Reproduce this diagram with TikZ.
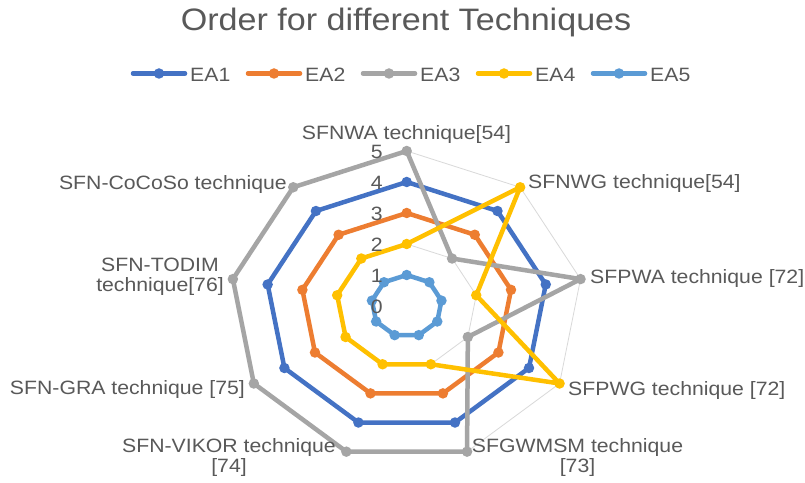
\documentclass[tikz,border=0pt]{standalone}
\usepackage{fontspec}
\setmainfont{Liberation Sans}[FakeStretch=1.1]
\definecolor{ea1}{HTML}{4472C4}
\definecolor{ea2}{HTML}{ED7D31}
\definecolor{ea3}{HTML}{A5A5A5}
\definecolor{ea4}{HTML}{FFC000}
\definecolor{ea5}{HTML}{5B9BD5}
\definecolor{gridc}{HTML}{D9D9D9}
\definecolor{txt}{HTML}{595959}
\begin{document}
\begin{tikzpicture}[x=1bp,y=-1bp,
  gridline/.style={draw=gridc, line width=0.8bp},
  series/.style={line width=4.5bp, line join=round},
  mk/.style={circle, inner sep=0pt, minimum size=10.5bp},
  lab/.style={text=txt, inner sep=0pt, font=\fontsize{19.3bp}{20bp}\selectfont},
]
\useasboundingbox (0,0) rectangle (805,483);
\fill[white] (0,0) rectangle (805,483);
\def\cx{406.7}\def\cy{306}\def\rx{35.3}\def\ry{31}
% grid
\foreach \l in {1,...,5}{
  \foreach \i in {0,...,8}{
    \coordinate (g\l-\i) at ({\cx+\l*\rx*cos(90-40*\i)},{\cy-\l*\ry*sin(90-40*\i)});
  }
  \draw[gridline] (g\l-0) \foreach \i in {1,...,8}{ -- (g\l-\i)} -- cycle;
}
% series
\foreach \s/\c/\vals in {1/ea1/{4,4,4,4,4,4,4,4,4},2/ea2/{3,3,3,3,3,3,3,3,3},3/ea3/{5,2,5,2,5,5,5,5,5},4/ea4/{2,5,2,5,2,2,2,2,2},5/ea5/{1,1,1,1,1,1,1,1,1}}{
  \foreach \v [count=\i from 0] in \vals {
    \coordinate (s\s-\i) at ({\cx+\v*\rx*cos(90-40*\i)},{\cy-\v*\ry*sin(90-40*\i)});
  }
  \draw[series, draw=\c] (s\s-0) \foreach \i in {1,...,8}{ -- (s\s-\i)} -- cycle;
  \foreach \i in {0,...,8}{ \node[mk, fill=\c] (m\s-\i) at (s\s-\i) {}; }
}
% tick labels
\foreach \l in {0,...,5}{
  \node[lab, anchor=east] (t\l) at (383,{\cy+1-\l*\ry}) {\l};
}
% category labels
\node[lab, anchor=base] (c0) at (406.5,140) {SFNWA technique[54]};
\node[lab, anchor=base west] (c1) at (528,188.5) {SFNWG technique[54]};
\node[lab, anchor=base west] (c2) at (590,284) {SFPWA technique [72]};
\node[lab, anchor=base west] (c3) at (568,395) {SFPWG technique [72]};
\node[lab, align=center] (c4) at (577.5,458) {SFGWMSM technique\\{}[73]};
\node[lab, align=center] (c5) at (229,458) {SFN-VIKOR technique\\{}[74]};
\node[lab, anchor=base east] (c6) at (245,394) {SFN-GRA technique [75]};
\node[lab, align=center] (c7) at (160,277) {SFN-TODIM\\technique[76]};
\node[lab, anchor=base east] (c8) at (287,190) {SFN-CoCoSo technique};
% title
\node[text=txt, inner sep=0pt, anchor=base, font=\fontsize{31bp}{36bp}\selectfont] (title) at (406,30.7) {Order for different Techniques};
% legend
\foreach \c/\n/\x in {ea1/EA1/133,ea2/EA2/248,ea3/EA3/363,ea4/EA4/478,ea5/EA5/593}{
  \coordinate (la\n) at (\x,73.5);
  \coordinate (lb\n) at (\x+52,73.5);
  \draw[line width=4.5bp, draw=\c, line cap=round] (la\n) -- (lb\n);
  \node[mk, fill=\c] (lm\n) at (\x+26,73.5) {};
  \node[lab, anchor=base west] (lt\n) at (\x+57,81.3) {\n};
}
\end{tikzpicture}
\end{document}
